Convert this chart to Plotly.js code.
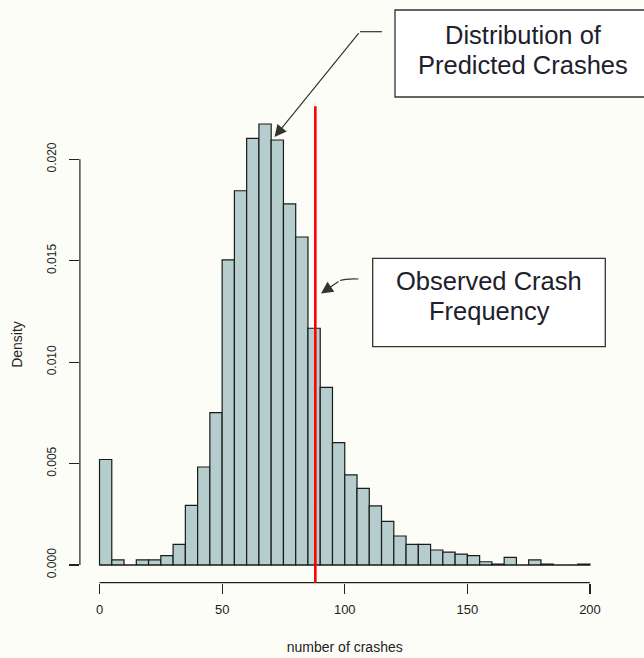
<!DOCTYPE html>
<html>
<head>
<meta charset="utf-8">
<script src="https://cdn.plot.ly/plotly-3.0.1.min.js"></script>
<style>html,body{margin:0;padding:0;background:#fdfdf8;}#chart{width:644px;height:658px;}</style>
</head>
<body>
<div id="chart"></div>
<script>
// ---- data ----
const binStarts = [0,5,10,15,20,25,30,35,40,45,50,55,60,65,70,75,80,85,90,95,
                   100,105,110,115,120,125,130,135,140,145,150,155,160,165,170,175,180,185,190,195];
const binWidth = 5;
const densities = [0.0052,0.00025,0,0.00025,0.00025,0.00046,0.00102,0.00294,0.00483,0.00751,
                   0.01504,0.01845,0.02103,0.02174,0.02095,0.0178,0.01617,0.01167,0.00876,0.00603,
                   0.00444,0.00378,0.00291,0.00215,0.00143,0.00102,0.00102,0.00074,0.00063,0.00054,
                   0.00046,0.00016,0.00005,0.00038,0,0.00025,0.00005,0,0,0.00005];
const observedCrashes = 88;
const xTickVals = [0,50,100,150,200];
const xTickText = ['0','50','100','150','200'];
const yTickVals = [0,0.005,0.010,0.015,0.020];
const yTickText = ['0.000','0.005','0.010','0.015','0.020'];
const xTitle = 'number of crashes';
const yTitle = 'Density';
const label1Lines = ['Distribution of', 'Predicted Crashes'];
const label2Lines = ['Observed Crash', 'Frequency'];

// ---- layout geometry ----
const W = 644, H = 658;
const xRange = [-8, 208];
const yRange = [-0.00087, 0.02261];
const xDomain = [79.9 / W, 609.6 / W];
const yDomain = [1 - 582.65 / H, 1 - 106.35 / H];
const px = v => v / W;
const py = v => 1 - v / H;

const centers = binStarts.map(s => s + binWidth / 2);
const lastEdge = binStarts[binStarts.length - 1] + binWidth;

const font = 'Liberation Sans, Arial, sans-serif';
const ink = '#222';
const arrowInk = '#333';
const labelInk = '#20202c';

const traces = [{
  type: 'bar',
  x: centers,
  y: densities,
  width: binWidth,
  marker: {color: '#b5cdcd', line: {color: '#1a1a1a', width: 1.2}},
  hoverinfo: 'skip'
}];

function textLine(t, cx, cy) {
  return {xref: 'paper', yref: 'paper', x: px(cx), y: py(cy), xanchor: 'center', yanchor: 'middle',
          text: t, showarrow: false, font: {family: font, size: 25.5, color: labelInk}};
}

const layout = {
  width: W, height: H,
  margin: {l: 0, r: 0, t: 0, b: 0},
  paper_bgcolor: '#fdfdf8',
  plot_bgcolor: '#fdfdf8',
  showlegend: false,
  bargap: 0,
  xaxis: {
    domain: xDomain, range: xRange, fixedrange: true,
    showgrid: false, zeroline: false, showline: false,
    ticks: 'outside', ticklen: 10, tickwidth: 1.2, tickcolor: ink,
    tickvals: xTickVals, ticktext: xTickText,
    tickfont: {family: font, size: 13, color: ink},
    ticklabelstandoff: 5,
    title: {text: xTitle, font: {family: font, size: 14, color: ink}, standoff: 25}
  },
  yaxis: {
    domain: yDomain, range: yRange, fixedrange: true,
    showgrid: false, zeroline: false, showline: false,
    ticks: 'outside', ticklen: 10, tickwidth: 1.2, tickcolor: ink,
    tickvals: yTickVals, ticktext: yTickText, tickangle: -90,
    tickfont: {family: font, size: 12, color: ink},
    ticklabelstandoff: 8,
    title: {text: yTitle, font: {family: font, size: 14, color: ink}, standoff: 19}
  },
  shapes: [
    // x axis line (0..200)
    {type: 'line', xref: 'x', yref: 'paper', x0: xTickVals[0], x1: xTickVals[xTickVals.length-1],
     y0: yDomain[0], y1: yDomain[0], line: {color: ink, width: 1.2}},
    // y axis line (0..0.020)
    {type: 'line', xref: 'paper', yref: 'y', x0: xDomain[0], x1: xDomain[0],
     y0: yTickVals[0], y1: yTickVals[yTickVals.length-1], line: {color: ink, width: 1.2}},
    // histogram baseline
    {type: 'line', xref: 'x', yref: 'y', x0: binStarts[0], x1: lastEdge, y0: 0, y1: 0,
     line: {color: '#1a1a1a', width: 1.2}},
    // observed crash frequency
    {type: 'line', xref: 'x', yref: 'paper', x0: observedCrashes, x1: observedCrashes,
     y0: yDomain[0], y1: yDomain[1], line: {color: '#ff0000', width: 2.6}},
    // callout boxes
    {type: 'rect', xref: 'paper', yref: 'paper', x0: px(395), x1: px(652), y0: py(97), y1: py(10),
     fillcolor: '#ffffff', line: {color: '#333', width: 1.3}},
    {type: 'rect', xref: 'paper', yref: 'paper', x0: px(372.7), x1: px(605.3), y0: py(346.7), y1: py(258.3),
     fillcolor: '#ffffff', line: {color: '#333', width: 1.3}},
    // leader segments of the callouts
    {type: 'line', xref: 'paper', yref: 'paper', x0: px(360), x1: px(382), y0: py(31.7), y1: py(31.7),
     line: {color: arrowInk, width: 1.2}},
    {type: 'path', xref: 'paper', yref: 'paper',
     path: 'M' + px(358.5) + ',' + py(279) + ' Q' + px(346) + ',' + py(278.5) + ' ' + px(340) + ',' + py(280.5),
     line: {color: arrowInk, width: 1.2}}
  ],
  annotations: [
    textLine(label1Lines[0], 523, 35),
    textLine(label1Lines[1], 523, 65),
    textLine(label2Lines[0], 489, 281),
    textLine(label2Lines[1], 489, 311),
    // arrowheads
    {xref: 'paper', yref: 'paper', x: px(274.5), y: py(137), text: '', showarrow: true,
     axref: 'pixel', ayref: 'pixel', ax: 85.5, ay: -105.3,
     arrowhead: 2, arrowsize: 2, arrowwidth: 1.2, arrowcolor: arrowInk, standoff: 0},
    {xref: 'paper', yref: 'paper', x: px(321), y: py(293.5), text: '', showarrow: true,
     axref: 'pixel', ayref: 'pixel', ax: 19, ay: -13,
     arrowhead: 2, arrowsize: 2, arrowwidth: 1.2, arrowcolor: arrowInk, standoff: 0}
  ]
};

Plotly.newPlot('chart', traces, layout, {displayModeBar: false, staticPlot: true});
</script>
</body>
</html>
